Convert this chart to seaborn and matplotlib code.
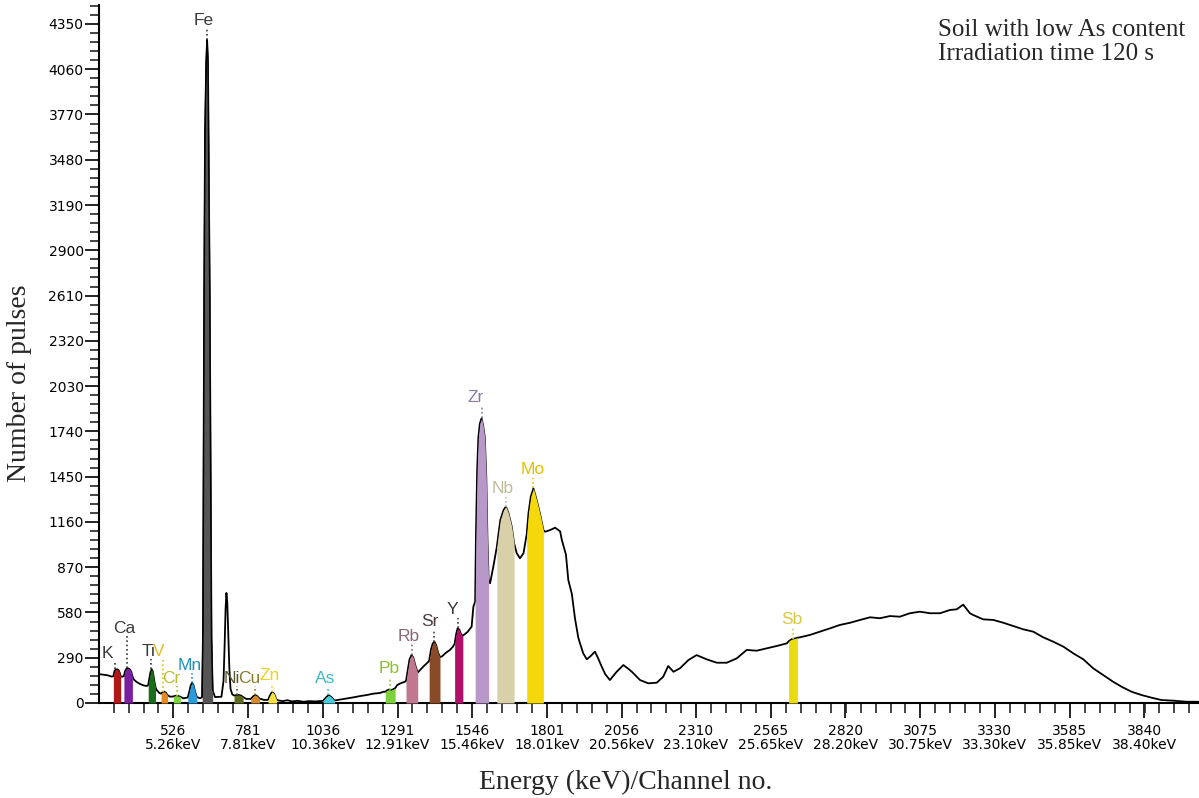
import numpy as np
import matplotlib
matplotlib.use("Agg")
import matplotlib.pyplot as plt
import seaborn as sns
from matplotlib.ticker import FixedLocator

# ---------------- data ----------------
channel = [276, 300, 316, 321, 325, 329, 334, 339, 343, 346, 350, 357, 361, 366, 372, 377, 382, 386,
           390, 400, 412, 425, 436, 440, 444, 448, 452, 456, 460, 465, 469, 478, 484, 489, 495, 500,
           506, 515, 526, 532, 538, 544, 550, 560, 575, 580, 585, 590, 595, 600, 606, 617, 624, 627,
           629, 631, 634, 638, 641, 644, 647, 650, 653, 656, 660, 668, 690, 697, 701, 704,
           707, 710, 713, 717, 721, 727, 733, 741, 748, 756, 764, 775, 790, 798, 805, 812, 820, 835,
           849, 856, 863, 870, 878, 885, 900, 915, 930, 950, 970, 990, 1010, 1025, 1037, 1048, 1056,
           1064, 1076, 1095, 1115, 1140, 1165, 1186, 1209, 1231, 1243, 1249, 1256, 1263, 1270, 1283,
           1290, 1300, 1317, 1320, 1326, 1332, 1339, 1345, 1352, 1360, 1368, 1380, 1391, 1399, 1405,
           1411, 1417, 1423, 1430, 1436, 1442, 1455, 1470, 1480, 1486, 1491, 1496, 1502, 1508, 1514,
           1520, 1530, 1544, 1550, 1556, 1559, 1563, 1567, 1572, 1578, 1583, 1589, 1594, 1598, 1602,
           1607, 1618, 1630, 1642, 1653, 1661, 1670, 1681, 1689, 1698, 1709, 1721, 1732, 1738, 1746,
           1755, 1766, 1777, 1789, 1795, 1812, 1829, 1840, 1846, 1852, 1866, 1874, 1886, 1897, 1908,
           1914, 1925, 1937, 1950, 1965, 1975, 1988, 2000, 2016, 2039, 2062, 2075, 2091, 2119, 2147,
           2176, 2198, 2215, 2233, 2255, 2284, 2312, 2346, 2381, 2415, 2449, 2483, 2517, 2551, 2585,
           2620, 2626, 2636, 2646, 2656, 2665, 2699, 2733, 2767, 2801, 2836, 2870, 2904, 2938, 2972,
           3006, 3040, 3074, 3109, 3143, 3177, 3200, 3222, 3245, 3256, 3290, 3325, 3359, 3393, 3427,
           3461, 3495, 3529, 3564, 3598, 3632, 3666, 3700, 3734, 3763, 3797, 3831, 3865, 3899, 3939,
           3985, 4019, 4040]
counts = [184, 178, 169, 172, 205, 214, 216, 210, 192, 172, 168, 172, 205, 220, 222, 216, 200, 172,
          152, 135, 122, 112, 109, 115, 160, 200, 216, 200, 150, 100, 83, 64, 60, 70, 72, 67,
          50, 40, 42, 46, 46, 44, 40, 30, 35, 70, 112, 130, 112, 70, 38, 30, 38, 450,
          1500, 2600, 3650, 4100, 4250, 4100, 3350, 2600, 1450, 420, 80, 38, 40, 140, 380, 600,
          705, 640, 450, 220, 90, 55, 48, 50, 52, 48, 38, 26, 26, 42, 52, 44, 28, 20,
          20, 50, 72, 58, 22, 16, 12, 18, 10, 14, 8, 12, 10, 12, 14, 38, 50,
          40, 16, 22, 28, 36, 45, 51, 60, 64, 72, 72, 82, 86, 82, 95,
          115, 125, 137, 140, 210, 280, 307, 290, 240, 195, 211, 235, 254, 270, 340,
          380, 393, 370, 320, 295, 297, 320, 340, 360, 380, 440, 478, 470, 440, 432,
          440, 455, 489, 617, 650, 1100, 1500, 1700, 1790, 1824, 1780, 1700, 1450, 1050, 790,
          767, 873, 1000, 1172, 1236, 1258, 1215, 1129, 1023, 959, 927, 959, 1080, 1215, 1322,
          1375, 1300, 1215, 1108, 1097, 1108, 1123, 1108, 1100, 1044, 950, 788, 700, 540, 420,
          382, 318, 280, 300, 329, 290, 233, 185, 147, 200, 243, 225, 200, 147, 126,
          130, 168, 237, 200, 222, 275, 307, 280, 258, 258, 286, 340, 335, 350, 365,
          382, 395, 408, 412, 418, 421, 436, 457, 478, 500, 514, 532, 549, 543, 557,
          553, 575, 585, 575, 575, 596, 600, 630, 575, 564, 536, 532, 514, 493, 472,
          457, 421, 393, 361, 318, 280, 222, 179, 136, 104, 72, 51, 34, 19, 15,
          8, 8, 6]

elements = ["K", "Ca", "Ti", "V", "Cr", "Mn", "Fe", "Ni", "Cu", "Zn", "As", "Pb",
            "Rb", "Sr", "Y", "Zr", "Nb", "Mo", "Sb"]
fill_start = [321, 357, 440, 484, 526, 575, 624, 733, 790, 849, 1037, 1249,
              1320, 1399, 1486, 1556, 1630, 1732, 2626]
fill_end = [346, 386, 465, 506, 550, 606, 660, 764, 820, 878, 1076, 1283,
            1360, 1436, 1514, 1602, 1689, 1789, 2656]
peak_channel = [327, 367, 450, 490, 538, 589, 641, 742, 805, 862, 1054, 1266,
                1340, 1417, 1499, 1578, 1660, 1755, 2640]
peak_top = [216, 222, 216, 72, 46, 130, 4250, 50, 52, 72, 50, 86,
            307, 393, 478, 1824, 1258, 1375, 410]
label_channel = [301, 358, 440, 477, 518, 583, 630, 726, 784, 856, 1044, 1262,
                 1330, 1402, 1479, 1559, 1651, 1752, 2638]
label_counts = [320, 480, 333, 333, 160, 243, 4369, 160, 160, 179, 154, 218,
                429, 519, 596, 1954, 1371, 1493, 532]
fill_colors = ["#B01818", "#7A1FA0", "#1A6B1A", "#E08A20", "#7CD040", "#2A9AD8", "#555555",
               "#5F6A20", "#D08A30", "#F8E040", "#48CCD8", "#7CD03C", "#C07890", "#8A4A28",
               "#B0106A", "#B898C8", "#D8D0A8", "#F4D80C", "#E8DC10"]
label_colors = ["#3A3A3A", "#3A3A3A", "#3A3A3A", "#E0C020", "#B8C030", "#2090B8", "#3A3A3A",
                "#5A5A30", "#8C7A2A", "#F0D020", "#40B8C8", "#8CC030", "#8A6878", "#4A3A3A",
                "#3A3A3A", "#8A78A8", "#C0BC98", "#E0C000", "#D8C840"]

x_ticks = [526, 781, 1036, 1291, 1546, 1801, 2056, 2310, 2565, 2820, 3075, 3330, 3585, 3840]
x_tick_kev = ["5.26keV", "7.81keV", "10.36keV", "12.91keV", "15.46keV", "18.01keV", "20.56keV",
              "23.10keV", "25.65keV", "28.20keV", "30.75keV", "33.30keV", "35.85keV", "38.40keV"]
y_ticks = [0, 290, 580, 870, 1160, 1450, 1740, 2030, 2320, 2610, 2900, 3190, 3480, 3770, 4060, 4350]

# ---------------- figure ----------------
sns.set_style("ticks")
plt.rcParams['font.family'] = ['DejaVu Sans']

W, H = 1199, 798
fig = plt.figure(figsize=(W / 100, H / 100), dpi=100)
ax = fig.add_axes([99 / W, 1 - 703 / H, 1 - 99 / W, 697.8 / H])

ch = np.array(channel)
ct = np.array(counts)

sns.lineplot(x=ch, y=ct, color="black", linewidth=1.3, ax=ax, estimator=None, sort=False, zorder=2)

for i, el in enumerate(elements):
    m = (ch >= fill_start[i]) & (ch <= fill_end[i])
    ax.fill_between(ch[m], 0, ct[m], color=fill_colors[i], linewidth=0, zorder=3)
    if el == "Fe":
        ax.plot(ch[m], ct[m], color="black", lw=1.0, zorder=3.5)
    ax.vlines(peak_channel[i], peak_top[i], label_counts[i] - 52, colors=label_colors[i],
              linestyles=(0, (1, 1.6)), lw=1.2, zorder=4)
    ax.text(label_channel[i], label_counts[i], el, ha="center", va="center",
            color=label_colors[i], fontsize=12.5, family="Liberation Sans", zorder=5)

ax.set_xlim(272, 4027)
ax.set_ylim(0, 4470)

ax.set_xticks(x_ticks)
ax.set_xticklabels([f"{c}\n{k}" for c, k in zip(x_ticks, x_tick_kev)], linespacing=1.0)
ax.xaxis.set_minor_locator(FixedLocator(np.arange(271, 4030, 51)))
ax.set_yticks(y_ticks)
ax.yaxis.set_minor_locator(FixedLocator(np.arange(0, 4470, 58)))

ax.tick_params(axis="x", which="major", length=11, width=1.2, direction="out", pad=4,
               labelsize=10, colors="black")
ax.tick_params(axis="x", which="minor", length=7, width=1.2, direction="out")
ax.tick_params(axis="y", which="major", length=10, width=1.2, direction="out", pad=1,
               labelsize=10, colors="black")
ax.tick_params(axis="y", which="minor", length=6.5, width=1.2, direction="out")

for s in ["top", "right"]:
    ax.spines[s].set_visible(False)
for s in ["left", "bottom"]:
    ax.spines[s].set_linewidth(1.5)
    ax.spines[s].set_color("black")
ax.set_xlabel("")
ax.set_ylabel("")
ax.set_facecolor("white")

serif = ["Liberation Serif", "DejaVu Serif"]
fig.text(938 / W, 1 - 36 / H, "Soil with low As content", family=serif, fontsize=18,
         va="baseline", ha="left")
fig.text(938 / W, 1 - 59.5 / H, "Irradiation time 120 s", family=serif, fontsize=18,
         va="baseline", ha="left")
fig.text(20 / W, 1 - 383 / H, "Number of pulses", family=serif, fontsize=20, rotation=90,
         ha="center", va="center")
fig.text(626 / W, 1 - 782 / H, "Energy (keV)/Channel no.", family=serif, fontsize=20,
         ha="center", va="center")

fig.savefig("out.png", dpi=100, facecolor="white")
